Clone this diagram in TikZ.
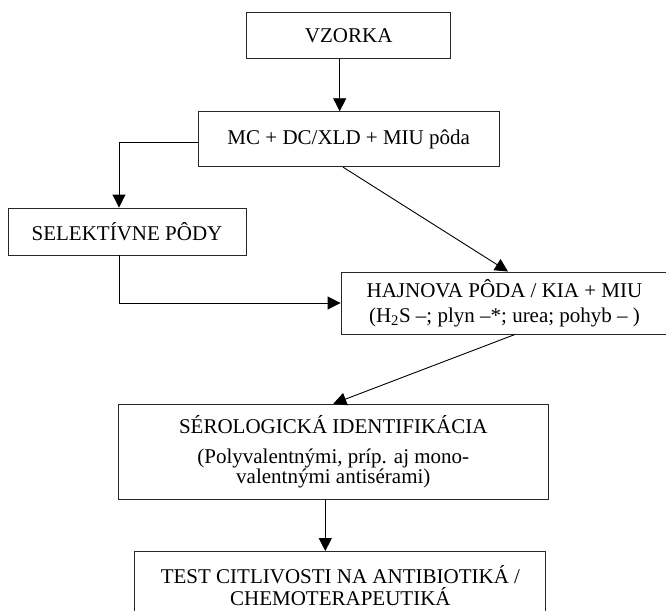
\documentclass[tikz,border=0pt]{standalone}
\usepackage{fontspec}
\setmainfont{Liberation Serif}
\usetikzlibrary{arrows.meta,positioning}

\begin{document}
\begin{tikzpicture}[x=1pt, y=-1pt,
    box/.style={draw=black!85, line width=0.9pt, align=center, inner sep=0pt,
        font=\fontsize{21}{23}\selectfont},
    arr/.style={-{Triangle[length=13pt,width=13pt]}, line width=0.9pt}]
    \useasboundingbox (0,0) rectangle (666,610);
    \clip (0,0) rectangle (666,610);

    % Boxes
    \node[box, minimum width=204pt, minimum height=46pt] (vzorka) at (348.7,35.5) {VZORKA};
    \node[box, minimum width=301pt, minimum height=55pt] (mc) at (348.7,139.2) {MC + DC/XLD + MIU pôda};
    \node[box, minimum width=238pt, minimum height=47pt] (selekt) at (127,231.5) {SELEKTÍVNE PÔDY};
    \node[box, minimum width=327pt, minimum height=62pt, font=\fontsize{21}{25}\selectfont] (hajnova) at (504.5,303)
        {HAJNOVA PÔDA / KIA + MIU\\(H\textsubscript{2}S –; plyn –*; urea; pohyb – )};
    \node[box, minimum width=430pt, minimum height=95pt, font=\fontsize{21}{20}\selectfont] (serol) at (333.3,451.7)
        {SÉROLOGICKÁ IDENTIFIKÁCIA\\[10pt](Polyvalentnými, príp. aj mono-\\valentnými antisérami)};
    \node[box, minimum width=411pt, minimum height=69pt, font=\fontsize{21}{22}\selectfont] (test) at (340.4,586)
        {TEST CITLIVOSTI NA ANTIBIOTIKÁ /\\CHEMOTERAPEUTIKÁ};

    % Arrows
    \draw[arr] ([xshift=-9pt]vzorka.south) -- ([xshift=-9pt]vzorka.south |- mc.north);
    \draw[arr] ([yshift=-3.5pt]mc.west) -| ([xshift=-8pt]selekt.north);
    \draw[arr] ([xshift=-8pt]selekt.south) |- (hajnova.west);
    \draw[arr] ([xshift=-5.7pt]mc.south) -- ([xshift=3.5pt]hajnova.north);
    \draw[arr] ([xshift=10.5pt]hajnova.south) -- (serol.north);
    \draw[arr] ([xshift=-8pt]serol.south) -- ([xshift=-8pt]serol.south |- test.north);
\end{tikzpicture}
\end{document}
